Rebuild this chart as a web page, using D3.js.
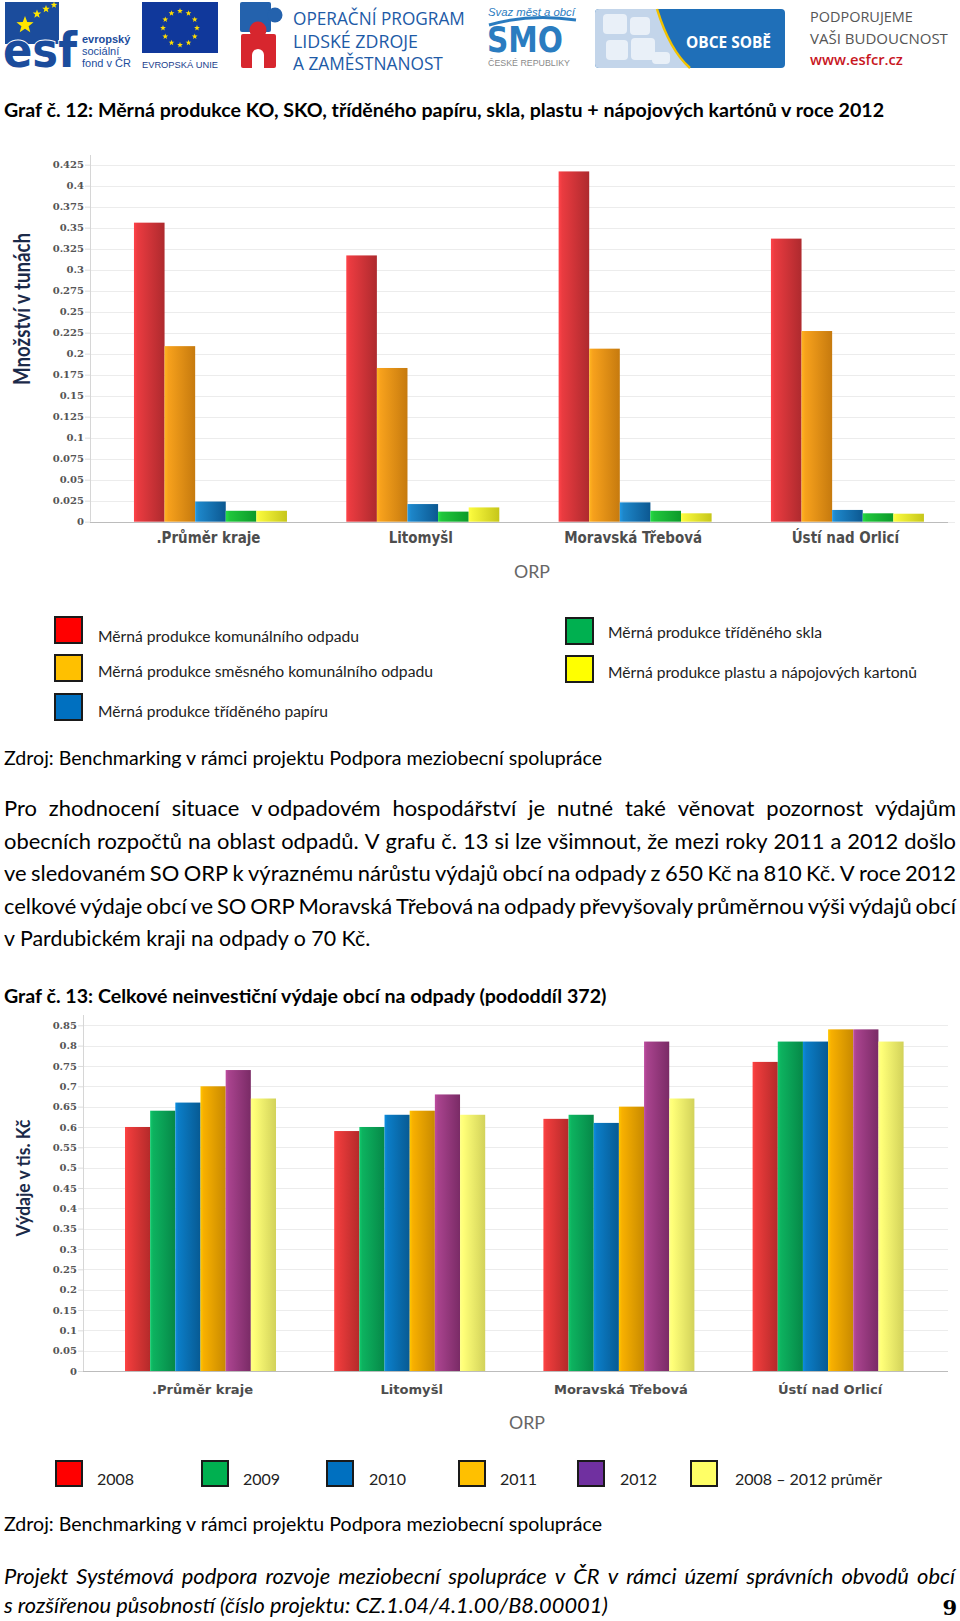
<!DOCTYPE html>
<html><head><meta charset="utf-8">
<script src="https://cdn.jsdelivr.net/npm/d3@7"></script>
<style>
html,body{margin:0;padding:0;background:#fff;}
svg{display:block;}
</style></head><body>
<svg id="page" width="960" height="1621"></svg>
<script>
// ---------------- DATA ----------------
const categories = [".Průměr kraje", "Litomyšl", "Moravská Třebová", "Ústí nad Orlicí"];

// Graf č. 12 – měrná produkce (t)
const series1 = ["Měrná produkce komunálního odpadu", "Měrná produkce směsného komunálního odpadu",
  "Měrná produkce tříděného papíru", "Měrná produkce tříděného skla", "Měrná produkce plastu a nápojových kartonů"];
const komunalni = [0.356, 0.317, 0.417, 0.337];
const smesny    = [0.209, 0.183, 0.206, 0.227];
const papir     = [0.024, 0.021, 0.023, 0.014];
const sklo      = [0.013, 0.012, 0.013, 0.010];
const plast     = [0.013, 0.017, 0.010, 0.0095];
const ticks1 = [0, 0.025, 0.05, 0.075, 0.1, 0.125, 0.15, 0.175, 0.2, 0.225, 0.25, 0.275, 0.3, 0.325, 0.35, 0.375, 0.4, 0.425];

// Graf č. 13 – výdaje (tis. Kč)
const series2 = ["2008", "2009", "2010", "2011", "2012", "2008 – 2012 průměr"];
const v2008 = [0.60, 0.59, 0.62, 0.76];
const v2009 = [0.64, 0.60, 0.63, 0.81];
const v2010 = [0.66, 0.63, 0.61, 0.81];
const v2011 = [0.70, 0.64, 0.65, 0.84];
const v2012 = [0.74, 0.68, 0.81, 0.84];
const vAvg  = [0.67, 0.63, 0.67, 0.81];
const ticks2 = [0, 0.05, 0.1, 0.15, 0.2, 0.25, 0.3, 0.35, 0.4, 0.45, 0.5, 0.55, 0.6, 0.65, 0.7, 0.75, 0.8, 0.85];

// ---------------- STYLES ----------------
const bodyFont = "Lato, 'Open Sans', 'Noto Sans', sans-serif";
const condFont = "'DejaVu Sans Condensed', 'Liberation Sans Narrow', 'Open Sans', sans-serif";
const tickFont = "'DejaVu Serif', serif";

const svg = d3.select("#page");
const defs = svg.append("defs");

function grad(id, c1, c2) {
  const g = defs.append("linearGradient").attr("id", id).attr("x1", 0).attr("x2", 1).attr("y1", 0).attr("y2", 0);
  g.append("stop").attr("offset", "0%").attr("stop-color", d3.color(c1).brighter(0.35));
  g.append("stop").attr("offset", "12%").attr("stop-color", c1);
  g.append("stop").attr("offset", "100%").attr("stop-color", c2);
  return "url(#" + id + ")";
}

function styleText(t, o) {
  return t.style("font-family", o.family || bodyFont)
    .style("font-size", (o.size || bodySize) + "px")
    .style("font-weight", o.weight || 400)
    .style("font-style", o.style || "normal")
    .attr("fill", o.fill || "#000");
}

// o.width -> squeeze/stretch to width; o.fitSize -> scale font size to width
function txt(parent, str, x, y, o) {
  const t = styleText(parent.append("text").attr("x", x).attr("y", y).text(str), o);
  if (o.anchor) t.attr("text-anchor", o.anchor);
  if (o.fitSize) {
    const w = t.node().getComputedTextLength();
    t.style("font-size", ((o.size || bodySize) * o.fitSize / w) + "px");
  } else if (o.width) {
    t.attr("textLength", o.width).attr("lengthAdjust", "spacingAndGlyphs");
  }
  return t;
}

function justified(parent, str, x, y, width, o) {
  const words = str.split(" ");
  const probe = styleText(parent.append("text"), o);
  const widths = words.map(w => { probe.text(w); return probe.node().getComputedTextLength(); });
  probe.remove();
  const gap = (width - d3.sum(widths)) / (words.length - 1);
  if (gap < 3) return txt(parent, str, x, y, Object.assign({}, o, {fitSize: width}));
  const t = styleText(parent.append("text").attr("y", y), o);
  let cx = x;
  words.forEach((w, i) => {
    t.append("tspan").attr("x", cx).text(i < words.length - 1 ? w + " " : w);
    cx += widths[i] + gap;
  });
  return t;
}

function star(cx, cy, r) {
  const pts = [];
  for (let i = 0; i < 10; i++) {
    const a = -Math.PI / 2 + i * Math.PI / 5;
    const rr = i % 2 ? r * 0.42 : r;
    pts.push([cx + rr * Math.cos(a), cy + rr * Math.sin(a)]);
  }
  return "M" + pts.map(p => p.join(",")).join("L") + "Z";
}

// body font size: chosen so that a normally spaced paragraph line fills the text width
const para = [
  "Pro zhodnocení situace v\u00A0odpadovém hospodářství je nutné také věnovat pozornost výdajům",
  "obecních rozpočtů na oblast odpadů. V grafu č. 13 si lze všimnout, že mezi roky 2011 a 2012 došlo",
  "ve sledovaném SO ORP k výraznému nárůstu výdajů obcí na odpady z 650 Kč na 810 Kč. V roce 2012",
  "celkové výdaje obcí ve SO ORP Moravská Třebová na odpady převyšovaly průměrnou výši výdajů obcí"
];
let bodySize = 18.5;
{
  const p = styleText(svg.append("text").text(para[1]), {size: 18.5});
  bodySize = 18.5 * 944 / p.node().getComputedTextLength();
  p.remove();
}

// ---------------- HEADER LOGOS ----------------
const hdr = svg.append("g");
const sans = "'Liberation Sans', Arial, sans-serif";
// ESF
hdr.append("rect").attr("x", 5).attr("y", 2).attr("width", 54).attr("height", 42).attr("fill", "#1b4c9c");
hdr.append("path").attr("d", star(25, 25, 9)).attr("fill", "#ffe600");
hdr.append("path").attr("d", star(37, 14, 4.5)).attr("fill", "#ffe600");
hdr.append("path").attr("d", star(46, 9, 4)).attr("fill", "#ffe600");
hdr.append("path").attr("d", star(54, 5, 3.4)).attr("fill", "#ffe600");
txt(hdr, "esf", 3, 67, {family: "'DejaVu Sans', sans-serif", size: 48, weight: 700, fill: "#1b4c9c", width: 74})
  .attr("stroke", "#fff").attr("stroke-width", 2).style("paint-order", "stroke");
txt(hdr, "evropský", 82, 43, {family: sans, size: 11, weight: 700, fill: "#1b4c9c"});
txt(hdr, "sociální", 82, 55, {family: sans, size: 11, fill: "#1b4c9c"});
txt(hdr, "fond v ČR", 82, 67, {family: sans, size: 11, fill: "#1b4c9c"});
// EU flag
hdr.append("rect").attr("x", 142).attr("y", 2).attr("width", 76).attr("height", 51).attr("fill", "#10389b");
d3.range(12).forEach(i => {
  const a = i * Math.PI / 6;
  hdr.append("path").attr("d", star(180 + 17 * Math.cos(a), 28 + 17 * Math.sin(a), 3)).attr("fill", "#ffdd00");
});
txt(hdr, "EVROPSKÁ UNIE", 142, 68, {family: sans, size: 10, fill: "#1a3c8c", fitSize: 76});
// OP LZZ
hdr.append("rect").attr("x", 240).attr("y", 2).attr("width", 31).attr("height", 30).attr("rx", 2).attr("fill", "#2462ad");
hdr.append("circle").attr("cx", 275).attr("cy", 15).attr("r", 7.5).attr("fill", "#2462ad");
hdr.append("circle").attr("cx", 258).attr("cy", 30).attr("r", 8.5).attr("fill", "#d7262e");
hdr.append("rect").attr("x", 241).attr("y", 34).attr("width", 35).attr("height", 34).attr("rx", 2).attr("fill", "#d7262e");
hdr.append("circle").attr("cx", 258).attr("cy", 55).attr("r", 6).attr("fill", "#fff");
hdr.append("rect").attr("x", 252).attr("y", 55).attr("width", 12).attr("height", 13).attr("fill", "#fff");
txt(hdr, "OPERAČNÍ PROGRAM", 293, 25, {family: "'Open Sans', sans-serif", size: 18.5, fill: "#1d5aa6", fitSize: 172});
txt(hdr, "LIDSKÉ ZDROJE", 293, 48, {family: "'Open Sans', sans-serif", size: 18.5, fill: "#1d5aa6", fitSize: 125});
txt(hdr, "A ZAMĚSTNANOST", 293, 70, {family: "'Open Sans', sans-serif", size: 18.5, fill: "#1d5aa6", fitSize: 150});
// SMO
txt(hdr, "Svaz měst a obcí", 488, 16, {family: sans, size: 12, style: "italic", fill: "#2a7cc0", fitSize: 87});
hdr.append("path").attr("d", "M489,25 Q530,13 576,20").attr("fill", "none").attr("stroke", "#2a7cc0").attr("stroke-width", 3);
txt(hdr, "SMO", 487, 52, {family: "'DejaVu Sans', sans-serif", size: 36, weight: 700, fill: "#2a7cc0", width: 76});
txt(hdr, "ČESKÉ REPUBLIKY", 488, 66, {family: sans, size: 8.5, fill: "#8a8a8a", fitSize: 82});
// OBCE SOBĚ
hdr.append("rect").attr("x", 595).attr("y", 9).attr("width", 190).attr("height", 59).attr("rx", 4).attr("fill", "#1f6fb8");
hdr.append("path").attr("d", "M599,9 H657 C665,35 675,55 690,68 H599 Q595,68 595,64 V13 Q595,9 599,9 Z").attr("fill", "#c3d5ea");
hdr.append("path").attr("d", "M657,9 C665,35 675,55 690,68").attr("fill", "none").attr("stroke", "#f2c200").attr("stroke-width", 2.5);
[[603, 14, 24, 20], [630, 17, 20, 18], [606, 40, 22, 20], [631, 38, 24, 22], [652, 52, 18, 12]].forEach(r =>
  hdr.append("rect").attr("x", r[0]).attr("y", r[1]).attr("width", r[2]).attr("height", r[3]).attr("rx", 4).attr("fill", "#e9f0f8"));
txt(hdr, "OBCE SOBĚ", 728.5, 48, {family: "'Open Sans', sans-serif", size: 15, weight: 700, fill: "#fff", anchor: "middle", fitSize: 85});
// Podporujeme
txt(hdr, "PODPORUJEME", 810, 22, {family: "'Open Sans', sans-serif", size: 16.5, fill: "#555", fitSize: 103});
txt(hdr, "VAŠI BUDOUCNOST", 810, 44, {family: "'Open Sans', sans-serif", size: 16.5, fill: "#555", fitSize: 138});
txt(hdr, "www.esfcr.cz", 810, 65, {family: "'Open Sans', sans-serif", size: 16.5, weight: 600, fill: "#c8161e", fitSize: 93});

// ---------------- TEXTS ----------------
const doc = svg.append("g");
txt(doc, "Graf č. 12: Měrná produkce KO, SKO, tříděného papíru, skla, plastu + nápojových kartónů v roce 2012", 4, 117, {weight: 700, fitSize: 880});
txt(doc, "Zdroj: Benchmarking v rámci projektu Podpora meziobecní spolupráce", 4, 765, {fitSize: 598});
const paraY = [816, 849, 881, 914];
para.forEach((l, i) => justified(doc, l, 4, paraY[i], 952, {}));
txt(doc, "v Pardubickém kraji na odpady o 70 Kč.", 4, 946, {fitSize: 366});
txt(doc, "Graf č. 13: Celkové neinvestiční výdaje obcí na odpady (pododdíl 372)", 4, 1003, {weight: 700, fitSize: 602});
txt(doc, "Zdroj: Benchmarking v rámci projektu Podpora meziobecní spolupráce", 4, 1531, {fitSize: 598});
justified(doc, "Projekt Systémová podpora rozvoje meziobecní spolupráce v ČR v rámci území správních obvodů obcí", 4, 1584, 951, {style: "italic"});
txt(doc, "s rozšířenou působností (číslo projektu: CZ.1.04/4.1.00/B8.00001)", 4, 1613, {style: "italic", fitSize: 604});
txt(doc, "9", 957, 1615, {family: "'DejaVu Serif', serif", size: 21, weight: 700, anchor: "end"});

// ---------------- CHART DRAWER ----------------
function drawChart(c) {
  const g = svg.append("g");
  const y = d3.scaleLinear().domain([0, c.yMax]).range([c.y0, c.yTop]);
  const x = d3.scaleBand().domain(categories).range([c.x0, c.x1]);
  const xs = d3.scaleBand().domain(d3.range(c.values.length)).range([-c.groupW / 2, c.groupW / 2]);

  // gridlines
  g.append("g").selectAll("line").data(c.ticks).join("line")
    .attr("x1", c.axisX).attr("x2", c.gridRight)
    .attr("y1", d => Math.round(y(d)) + 0.5).attr("y2", d => Math.round(y(d)) + 0.5)
    .attr("stroke", "#ececec");
  // y axis line
  g.append("line").attr("x1", c.axisX + 0.5).attr("x2", c.axisX + 0.5).attr("y1", c.axisTop).attr("y2", y(0))
    .attr("stroke", "#d6d6d6");
  // y axis ticks + labels
  const ax = g.append("g").attr("transform", `translate(${c.axisX},0)`)
    .call(d3.axisLeft(y).tickValues(c.ticks).tickSize(5).tickPadding(1).tickFormat(d => String(+d.toFixed(3))));
  ax.select(".domain").remove();
  ax.selectAll(".tick line").attr("stroke", "#dcdcdc");
  ax.selectAll(".tick text").attr("fill", "#555").style("font-family", tickFont)
    .style("font-size", c.tickSize + "px").style("font-weight", 700);

  // bars
  c.values.forEach((vals, s) => {
    g.append("g").selectAll("rect").data(vals).join("rect")
      .attr("x", (d, i) => x(categories[i]) + x.bandwidth() / 2 + xs(s))
      .attr("width", xs.bandwidth())
      .attr("y", d => y(d))
      .attr("height", d => y(0) - y(d))
      .attr("fill", c.fills[s]);
  });
  // baseline
  g.append("line").attr("x1", c.axisX).attr("x2", c.baseRight).attr("y1", Math.round(y(0)) + 0.5).attr("y2", Math.round(y(0)) + 0.5)
    .attr("stroke", "#bcbcbc");

  // category labels (kept at a fixed glyph height, squeezed horizontally like the original)
  const labs = g.append("g").selectAll("text").data(categories).join("text")
    .attr("x", d => x(d) + x.bandwidth() / 2 + c.catDx).attr("y", c.catY).attr("text-anchor", "middle")
    .text(d => d).attr("fill", c.catFill)
    .style("font-family", c.catFont).style("font-size", c.catSize + "px").style("font-weight", 700);
  const k = c.catRefW / labs.node().getComputedTextLength();
  labs.each(function () {
    this.setAttribute("textLength", this.getComputedTextLength() * k);
    this.setAttribute("lengthAdjust", "spacingAndGlyphs");
  });

  // axis titles
  g.append("text").attr("transform", `translate(${c.yTitleX},${c.yTitleY}) rotate(-90)`)
    .attr("text-anchor", "middle").text(c.yTitle).attr("fill", "#1b2a49")
    .style("font-family", bodyFont).style("font-size", c.yTitleSize + "px").style("font-weight", 700)
    .attr("textLength", c.yTitleW).attr("lengthAdjust", "spacingAndGlyphs");
  txt(g, "ORP", c.orpX, c.orpY, {size: 17, fill: "#666", anchor: "middle", fitSize: 36});
  return g;
}

const f1 = [grad("g1a", "#ea3b40", "#ae2a2e"), grad("g1b", "#f7a11c", "#c67a0e"), grad("g1c", "#1d86c9", "#0c5891"),
  grad("g1d", "#20c63c", "#0c9a2a"), grad("g1e", "#f6f63a", "#c6c61a")];
drawChart({
  values: [komunalni, smesny, papir, sklo, plast], fills: f1, ticks: ticks1, yMax: 0.425,
  y0: 521.7, yTop: 164.7, x0: 104.3, x1: 953.6, groupW: 153, axisX: 90, axisTop: 155, gridRight: 955, baseRight: 948,
  tickSize: 10, catY: 543, catDx: -2, catFill: "#4d4d4d", catFont: condFont, catSize: 15.5, catRefW: 104,
  yTitle: "Množství v tunách", yTitleX: 30, yTitleY: 309, yTitleSize: 22, yTitleW: 152,
  orpX: 532, orpY: 578
});

const f2 = [grad("g2a", "#ef3c3c", "#b42a2a"), grad("g2b", "#0db25f", "#068848"), grad("g2c", "#0b7dc7", "#075a93"),
  grad("g2d", "#f8b000", "#c88a00"), grad("g2e", "#a9438e", "#7a2b66"), grad("g2f", "#ffff78", "#d2d25a")];
drawChart({
  values: [v2008, v2009, v2010, v2011, v2012, vAvg], fills: f2, ticks: ticks2, yMax: 0.85,
  y0: 1371, yTop: 1025.3, x0: 95.9, x1: 932.7, groupW: 151, axisX: 83, axisTop: 1015, gridRight: 948, baseRight: 948,
  tickSize: 10, catY: 1394, catDx: 2, catFill: "#4d4d4d", catFont: "'DejaVu Sans', sans-serif", catSize: 13, catRefW: 101,
  yTitle: "Výdaje v tis. Kč", yTitleX: 29.5, yTitleY: 1178, yTitleSize: 19, yTitleW: 117,
  orpX: 527, orpY: 1429
});

// ---------------- LEGENDS ----------------
const leg = svg.append("g");
const legColors1 = ["#ff0000", "#ffc000", "#0070c0", "#00b050", "#ffff00"];
const legPos1 = [[54, 616, 98, 642], [54, 654, 98, 677], [54, 693, 98, 717], [565, 617, 608, 638], [565, 655, 608, 678]];
const legW1 = [261, 335, 230, 214, 309];
series1.forEach((s, i) => {
  const p = legPos1[i];
  leg.append("rect").attr("x", p[0] + 1).attr("y", p[1] + 1).attr("width", 27).attr("height", 26)
    .attr("fill", legColors1[i]).attr("stroke", "#1a1a1a").attr("stroke-width", 2);
  txt(leg, s, p[2], p[3], {size: 15.5, fill: "#222", width: legW1[i]});
});
const legColors2 = ["#ff0000", "#00b050", "#0070c0", "#ffc000", "#7030a0", "#ffff66"];
const legSq2 = [55, 201, 326, 458, 577, 690];
const legTx2 = [97, 243, 369, 500, 620, 735];
series2.forEach((s, i) => {
  leg.append("rect").attr("x", legSq2[i] + 1).attr("y", 1461).attr("width", 26).attr("height", 25)
    .attr("fill", legColors2[i]).attr("stroke", "#1a1a1a").attr("stroke-width", 2);
  txt(leg, s, legTx2[i], 1485, {size: 16, fill: "#222"});
});
</script>
</body></html>
